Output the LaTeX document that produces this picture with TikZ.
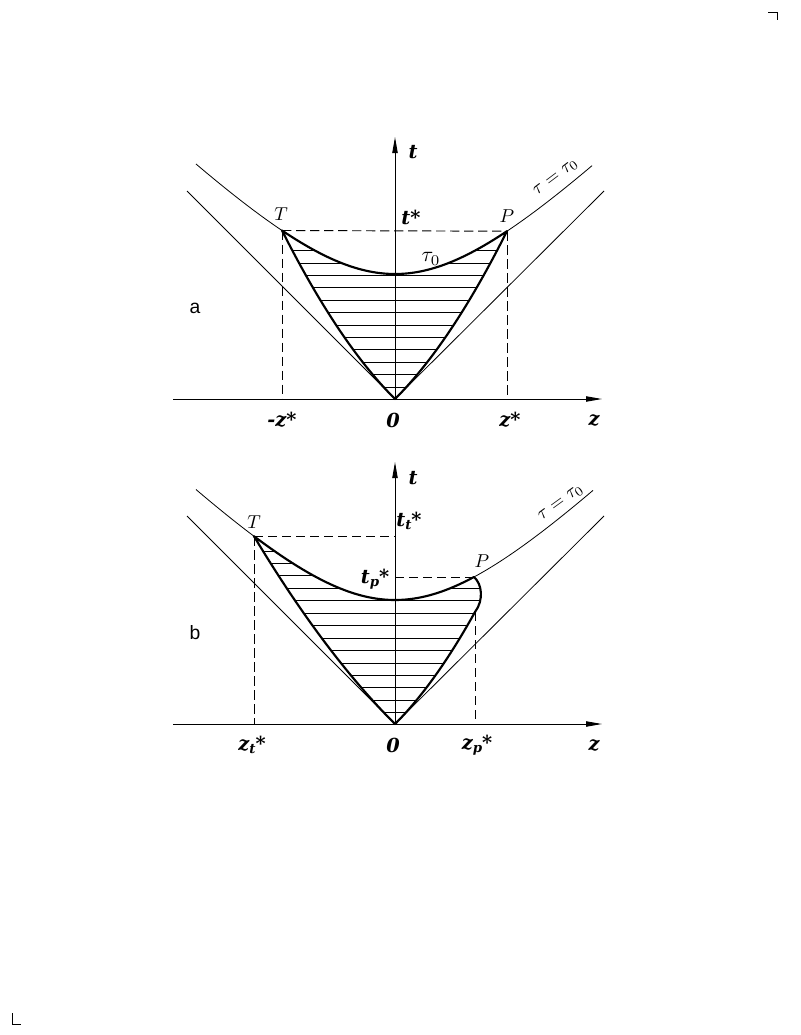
\documentclass[tikz,border=0pt]{standalone}
\usepackage{fontspec}
\newfontfamily\lbl{DejaVu Serif}
\newfontfamily\sflbl{Liberation Sans}
\usetikzlibrary{arrows.meta}
\newcommand\lsub[1]{\raisebox{-0.3ex}{\fontsize{10}{10}\selectfont #1}}
\tikzset{
  thinline/.style={line width=0.6pt},
  boldline/.style={line width=1.6pt, line join=round},
  hatchline/.style={line width=0.7pt},
  dashline/.style={line width=0.7pt, dash pattern=on 7pt off 3.5pt},
  axisline/.style={line width=0.7pt, -{Triangle[length=12pt,width=4pt]}},
  lab/.style={font=\lbl\bfseries\itshape\fontsize{14.5}{16}\selectfont, inner sep=0pt},
  ptlab/.style={scale=1.4, inner sep=0pt},
  taulab/.style={scale=1.6, inner sep=0pt},
  curvelab/.style={scale=1.4, inner sep=0pt},
  sflab/.style={font=\sflbl\fontsize{14.5}{16}\selectfont, inner sep=0pt}
}
\begin{document}
\begin{tikzpicture}[x=0.75pt,y=-0.75pt]
\useasboundingbox (0,0) rectangle (800,1035);
% corner marks
\draw[thinline] (768,12) -- (777,12) -- (777,20);
\draw[thinline] (12,1013) -- (12,1024) -- (21,1024);

%================ TOP (a) ================
\coordinate (O1) at (395,399);
\coordinate (T1) at (282,230.5);
\coordinate (P1) at (507,231.2);
\coordinate (Z1L) at (173,399);
\coordinate (Z1R) at (602,399);
\coordinate (Y1) at (395,137);
\coordinate (T1b) at (282,399);
\coordinate (P1b) at (507,399);
\coordinate (L1) at (187,191);
\coordinate (R1) at (604,191);
% hatching
\begin{scope}
\clip plot[domain=0:113,samples=40] ({395-\x},{399-\x*(1+0.004346*\x)})
  -- plot[domain=-113:112,samples=60] ({395+\x},{399-100*sqrt(1.5625+(\x/100)*(\x/100))})
  -- plot[domain=112:0,samples=40] ({395+\x},{399-\x*(1+0.004448*\x)}) -- cycle;
\foreach \i in {0,...,11} \draw[hatchline] (250,{250.7+12.4*\i}) -- (540,{250.7+12.4*\i});
\end{scope}
% thin curves
\draw[thinline] plot[domain=-199:197,samples=80] ({395+\x},{399-100*sqrt(1.5625+(\x/100)*(\x/100))});
\draw[thinline] (L1) -- (O1) -- (R1);
% dashed
\draw[dashline] (T1) -- (P1);
\draw[dashline] (T1) -- (T1b);
\draw[dashline] (P1) -- (P1b);
% bold boundary
\draw[boldline] plot[domain=0:113,samples=40] ({395-\x},{399-\x*(1+0.004346*\x)})
  -- plot[domain=-113:112,samples=60] ({395+\x},{399-100*sqrt(1.5625+(\x/100)*(\x/100))})
  -- plot[domain=112:0,samples=40] ({395+\x},{399-\x*(1+0.004448*\x)}) -- cycle;
% axes
\draw[axisline] (Z1L) -- (Z1R);
\draw[axisline] (O1) -- (Y1);
% labels
\node[lab] (lt1) at (413,152) {t};
\node[lab] (lts1) at (411,217) {t*};
\node[ptlab] (lT1) at (281,214) {$T$};
\node[ptlab] (lP1) at (507,216) {$P$};
\node[taulab] (ltau1) at (431,259) {$\tau_0$};
\node[lab] (lmz1) at (282,420) {-z*};
\node[lab] (l01) at (393,420) {0};
\node[lab] (lzs1) at (510,420) {z*};
\node[lab] (lz1) at (594,420) {z};
\node[curvelab, rotate=37] (lcurve1) at (556,178) {$\tau=\tau_0$};
\node[sflab] (la) at (195,308) {a};

%================ BOTTOM (b) ================
\coordinate (O2) at (395,724);
\coordinate (T2) at (254,536.2);
\coordinate (P2) at (474,577);
\coordinate (A2) at (475,612);
\coordinate (Z2L) at (173,724);
\coordinate (Z2R) at (602,724);
\coordinate (Y2) at (395,462);
\coordinate (T2b) at (254,724);
\coordinate (T2a) at (395,536.2);
\coordinate (P2a) at (395,577);
\coordinate (A2b) at (475,724);
\coordinate (L2) at (187,516);
\coordinate (R2) at (604,516);
% hatching
\begin{scope}
\clip plot[domain=0:141,samples=40] ({395-\x},{724-\x*(1+0.002354*\x)})
  -- plot[domain=-141:79,samples=60] ({395+\x},{724-100*sqrt(1.5376+(\x/100)*(\x/100))})
  .. controls (482,584) and (484,600) .. (475,612)
  -- plot[domain=80:0,samples=40] ({395+\x},{724-\x*(1+0.005*\x)}) -- cycle;
\foreach \i in {0,...,13} \draw[hatchline] (230,{551+12.45*\i}) -- (520,{551+12.45*\i});
\end{scope}
% thin curves
\draw[thinline] plot[domain=-199:198,samples=80] ({395+\x},{724-100*sqrt(1.5376+(\x/100)*(\x/100))});
\draw[thinline] (L2) -- (O2) -- (R2);
% dashed
\draw[dashline] (T2) -- (T2a);
\draw[dashline] (T2) -- (T2b);
\draw[dashline] (P2a) -- (P2);
\draw[dashline] (A2) -- (A2b);
% bold boundary
\draw[boldline] plot[domain=0:141,samples=40] ({395-\x},{724-\x*(1+0.002354*\x)})
  -- plot[domain=-141:79,samples=60] ({395+\x},{724-100*sqrt(1.5376+(\x/100)*(\x/100))})
  .. controls (482,584) and (484,600) .. (475,612)
  -- plot[domain=80:0,samples=40] ({395+\x},{724-\x*(1+0.005*\x)}) -- cycle;
% axes
\draw[axisline] (Z2L) -- (Z2R);
\draw[axisline] (O2) -- (Y2);
% labels
\node[lab] (lt2) at (413,478) {t};
\node[lab] (ltt2) at (409,521) {t\lsub{t}*};
\node[ptlab] (lT2) at (254,522) {$T$};
\node[ptlab] (lP2) at (482,561) {$P$};
\node[lab] (ltp2) at (375,579) {t\lsub{p}*};
\node[lab] (lzt2) at (252,745) {z\lsub{t}*};
\node[lab] (l02) at (393,745) {0};
\node[lab] (lzp2) at (477,745) {z\lsub{p}*};
\node[lab] (lz2) at (594,745) {z};
\node[curvelab, rotate=36] (lcurve2) at (561,503) {$\tau=\tau_0$};
\node[sflab] (lb) at (195,633) {b};
\end{tikzpicture}
\end{document}
